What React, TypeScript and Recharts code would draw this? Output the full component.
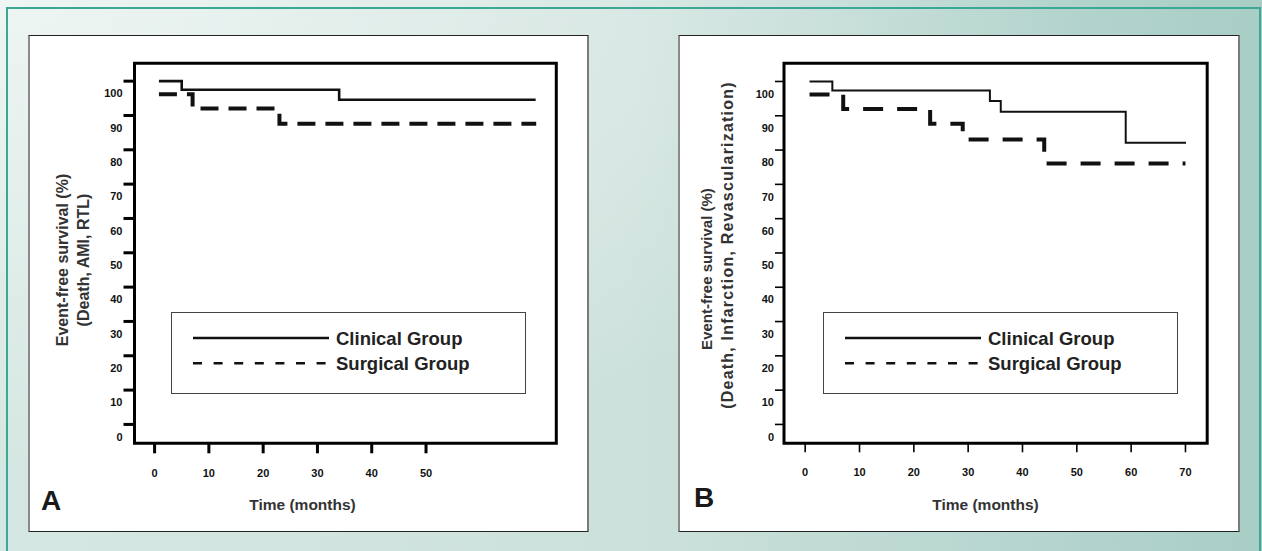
import React from "react";
import { LineChart, Line, XAxis, YAxis, ReferenceArea, Legend } from "recharts";

const seriesNames = ["Clinical Group", "Surgical Group"];
const yTicks = [0, 10, 20, 30, 40, 50, 60, 70, 80, 90, 100];

// Panel A: Death, AMI, RTL
const monthsAClinical = [0.8, 5, 34, 70.2];
const survivalAClinical = [100, 97.5, 94.6, 94.6];
const monthsASurgical = [0.8, 7, 23, 70.3];
const survivalASurgical = [96.2, 92, 87.6, 87.6];
const xTicksA = [0, 10, 20, 30, 40, 50];

// Panel B: Death, Infarction, Revascularization
const monthsBClinical = [0.8, 5, 34, 36, 59, 70.1];
const survivalBClinical = [100, 97.4, 94.3, 91.2, 82.1, 82.1];
const monthsBSurgical = [0.8, 7, 23, 29, 44, 70];
const survivalBSurgical = [96.2, 92, 87.7, 83.1, 76.1, 76.1];
const xTicksB = [0, 10, 20, 30, 40, 50, 60, 70];

const FONT = '"Liberation Sans", Arial, Helvetica, sans-serif';

function toPoints(months: number[], values: number[]) {
  return months.map((t, i) => ({ t, v: values[i] }));
}

function XTick(props: any) {
  const { x, y, payload } = props;
  return (
    <text x={x} y={y} dy="0.71em" textAnchor="middle" fontFamily={FONT} fontSize={11} fontWeight="bold" fill="#111">
      {payload.value}
    </text>
  );
}

function YTick(props: any) {
  const { x, y, payload } = props;
  return (
    <text x={x} y={y + 16.2} textAnchor="end" fontFamily={FONT} fontSize={11} fontWeight="bold" fill="#111">
      {payload.value}
    </text>
  );
}

function LegendBox(props: any) {
  const payload = props.payload || [];
  return (
    <div
      style={{
        width: 355,
        height: 82,
        border: "1.5px solid #444",
        boxSizing: "border-box",
        background: "#fff",
      }}
    >
      <svg width={352} height={79}>
        {seriesNames.map((name, i) => {
          const y = 25 + i * 25.3;
          return (
            <g key={name}>
              <line
                x1={21}
                x2={157}
                y1={y}
                y2={y}
                stroke="#111"
                strokeWidth={2.6}
                strokeDasharray={i === 1 ? "9 11.6" : undefined}
              />
              <text x={164} y={y} dominantBaseline="central" fontFamily={FONT} fontSize={18.5} fontWeight="bold" fill="#222">
                {payload[i]?.value ?? name}
              </text>
            </g>
          );
        })}
      </svg>
    </div>
  );
}

interface PanelProps {
  left: number;
  width: number;
  xDomain: [number, number];
  yDomain: [number, number];
  xTicks: number[];
  clinical: { t: number; v: number }[];
  surgical: { t: number; v: number }[];
  marginLeft: number;
  marginRight: number;
  tickWidth: number;
  yTickSize: number;
  xTickSize: number;
  clinicalWidth: number;
  dash: string;
  legendLeft: number;
}

function SurvivalPanel(p: PanelProps) {
  return (
    <div
      style={{
        position: "absolute",
        left: p.left,
        top: 35,
        width: p.width,
        height: 497,
        background: "#fff",
        boxSizing: "border-box",
        borderTop: "1px solid #222",
        borderBottom: "1px solid #222",
        borderLeft: "2px solid #8a8a8a",
        borderRight: "2px solid #7a7a7a",
      }}
    >
      <div style={{ position: "absolute", left: -2, top: -1 }}>
        <LineChart
          width={p.width}
          height={497}
          margin={{ top: 28.3, right: p.marginRight, bottom: 48.7, left: p.marginLeft }}
        >
          <XAxis
            type="number"
            dataKey="t"
            domain={p.xDomain}
            ticks={p.xTicks}
            interval={0}
            allowDataOverflow
            axisLine={false}
            tickLine={{ stroke: "#000", strokeWidth: p.tickWidth }}
            tickSize={p.xTickSize}
            tickMargin={16}
            height={40}
            tick={<XTick />}
          />
          <YAxis
            type="number"
            dataKey="v"
            domain={p.yDomain}
            ticks={yTicks}
            interval={0}
            allowDataOverflow
            axisLine={false}
            tickLine={{ stroke: "#000", strokeWidth: p.tickWidth }}
            tickSize={p.yTickSize}
            tickMargin={1}
            width={60}
            tick={<YTick />}
          />
          <ReferenceArea
            x1={p.xDomain[0]}
            x2={p.xDomain[1]}
            y1={p.yDomain[0]}
            y2={p.yDomain[1]}
            fill="#fff"
            fillOpacity={0}
            stroke="#000"
            strokeWidth={3}
            ifOverflow="visible"
          />
          <Line
            data={p.clinical}
            dataKey="v"
            name={seriesNames[0]}
            type="stepAfter"
            stroke="#111"
            strokeWidth={p.clinicalWidth}
            dot={false}
            activeDot={false}
            isAnimationActive={false}
          />
          <Line
            data={p.surgical}
            dataKey="v"
            name={seriesNames[1]}
            type="stepAfter"
            stroke="#111"
            strokeWidth={4}
            strokeDasharray={p.dash}
            dot={false}
            activeDot={false}
            isAnimationActive={false}
          />
          <Legend
            layout="vertical"
            align="center"
            verticalAlign="middle"
            content={<LegendBox />}
            wrapperStyle={{ left: p.legendLeft, top: 277, width: 355, height: 82 }}
          />
        </LineChart>
      </div>
    </div>
  );
}

export default function App() {
  return (
    <div
      style={{
        position: "absolute",
        left: 0,
        top: 0,
        width: 1262,
        height: 551,
        overflow: "hidden",
        background:
          "radial-gradient(ellipse at 0% 0%, rgba(255,255,255,0.6) 0%, rgba(255,255,255,0) 60%), linear-gradient(to right, #d5e7e2 0%, #cde1dc 50%, #a8cec6 100%)",
      }}
    >
      <div
        style={{
          position: "absolute",
          left: 6,
          top: 7,
          width: 1255,
          height: 560,
          boxSizing: "border-box",
          borderTop: "2px solid #3aa892",
          borderLeft: "2px solid #3aa892",
          borderRight: "2px solid #3aa892",
        }}
      />
      <SurvivalPanel
        left={28}
        width={561}
        xDomain={[-3.7, 74]}
        yDomain={[-5.5, 105.2]}
        xTicks={xTicksA}
        clinical={toPoints(monthsAClinical, survivalAClinical)}
        surgical={toPoints(monthsASurgical, survivalASurgical)}
        marginLeft={46.5}
        marginRight={32.7}
        tickWidth={3}
        yTickSize={11}
        xTickSize={10}
        clinicalWidth={2.6}
        dash="18 10"
        legendLeft={142.8}
      />
      <SurvivalPanel
        left={678}
        width={562}
        xDomain={[-3.9, 74]}
        yDomain={[-5.5, 105.3]}
        xTicks={xTicksB}
        clinical={toPoints(monthsBClinical, survivalBClinical)}
        surgical={toPoints(monthsBSurgical, survivalBSurgical)}
        marginLeft={46}
        marginRight={32.8}
        tickWidth={1.6}
        yTickSize={9}
        xTickSize={9}
        clinicalWidth={2}
        dash="20 14"
        legendLeft={145.3}
      />
      <svg width={1262} height={551} style={{ position: "absolute", left: 0, top: 0, pointerEvents: "none" }}>
        <g fontFamily={FONT} fontWeight="bold">
          <text x={62} y={260} transform="rotate(-90 62 260)" textAnchor="middle" dominantBaseline="central" fontSize={16} fill="#333">
            Event-free survival (%)
          </text>
          <text x={83.5} y={260} transform="rotate(-90 83.5 260)" textAnchor="middle" dominantBaseline="central" fontSize={16} fill="#333">
            (Death, AMI, RTL)
          </text>
          <text x={706} y={269} transform="rotate(-90 706 269)" textAnchor="middle" dominantBaseline="central" fontSize={15} fill="#333">
            Event-free survival (%)
          </text>
          <text x={727} y={245} transform="rotate(-90 727 245)" textAnchor="middle" dominantBaseline="central" fontSize={16} letterSpacing={1.2} fill="#333">
            (Death, Infarction, Revascularization)
          </text>
          <text x={302.5} y={504} textAnchor="middle" dominantBaseline="central" fontSize={15.5} fill="#333">
            Time (months)
          </text>
          <text x={985.5} y={504} textAnchor="middle" dominantBaseline="central" fontSize={15.5} fill="#333">
            Time (months)
          </text>
          <text x={41} y={510} fontSize={28} fill="#1a1a1a">
            A
          </text>
          <text x={694} y={507} fontSize={28} fill="#1a1a1a">
            B
          </text>
        </g>
      </svg>
    </div>
  );
}
